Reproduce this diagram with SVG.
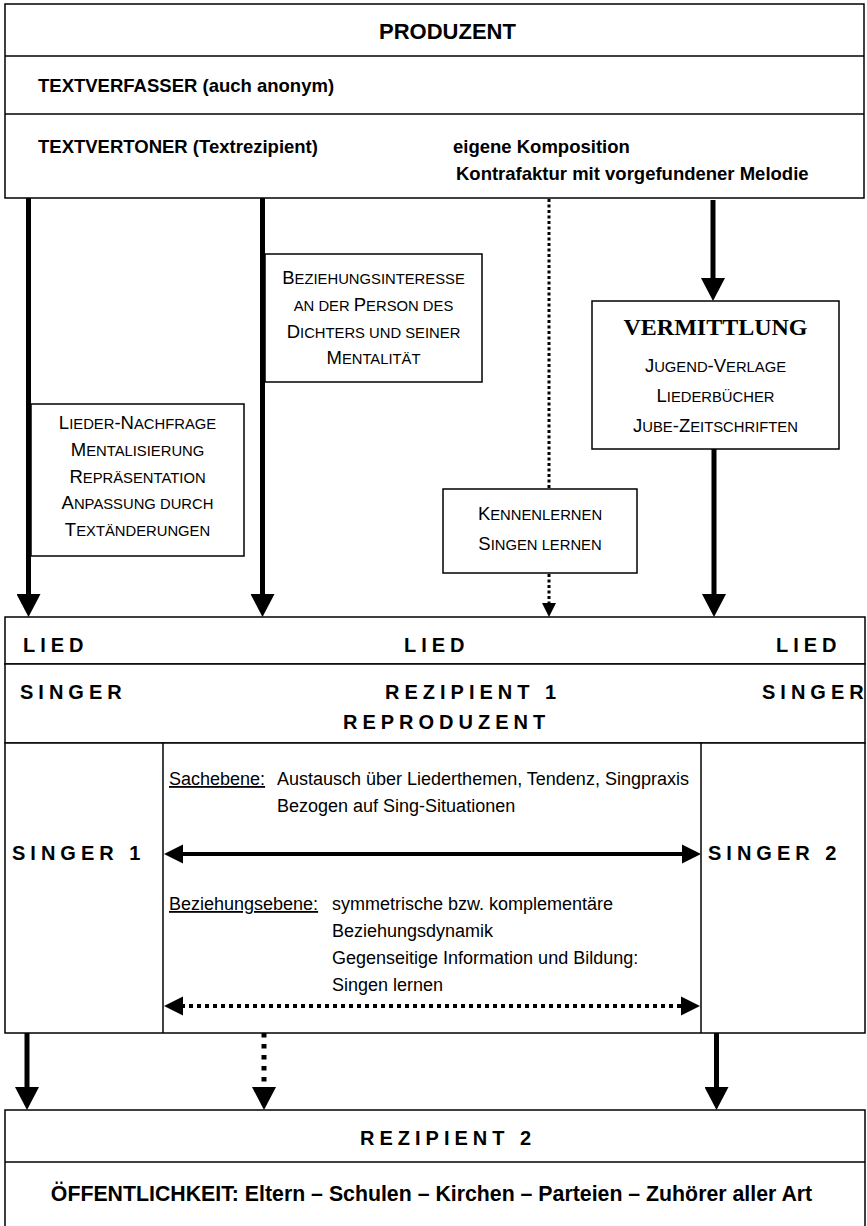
<svg xmlns="http://www.w3.org/2000/svg" width="867" height="1226" viewBox="0 0 867 1226">
<style>
  .box{fill:#fff;stroke:#000;stroke-width:1.5}
  .ln{stroke:#000;stroke-width:1.5;fill:none}
  .b{font-family:"Liberation Sans",Arial,sans-serif;font-weight:bold;fill:#000}
  .r{font-family:"Liberation Sans",Arial,sans-serif;fill:#000;font-size:18px}
  .sp{font-family:"Liberation Sans",Arial,sans-serif;font-weight:bold;font-size:20px;letter-spacing:5px;fill:#000}
  .sc{font-family:"Liberation Sans",Arial,sans-serif;font-size:18.5px;fill:#000;text-anchor:middle}
  .s{font-size:14.8px}
  .u{text-decoration:underline}
  .solid{stroke:#000;stroke-width:5;fill:none}
  .dotv{stroke:#000;stroke-width:3;stroke-dasharray:3 2.5;fill:none}
  .dash{stroke:#000;stroke-width:5;stroke-dasharray:4.5 6.5;fill:none}
  .hs{stroke:#000;stroke-width:4;fill:none}
  .hd{stroke:#000;stroke-width:4;stroke-dasharray:4 4;fill:none}
</style>
<defs>
  <marker id="big" markerUnits="userSpaceOnUse" markerWidth="24" markerHeight="24" refX="2" refY="12" orient="auto" viewBox="0 0 24 24">
    <path d="M0,0 L23,12 L0,24 Z" fill="#000"/>
  </marker>
  <marker id="small" markerUnits="userSpaceOnUse" markerWidth="15" markerHeight="15" refX="2" refY="7" orient="auto" viewBox="0 0 15 14">
    <path d="M0,0 L14,7 L0,14 Z" fill="#000"/>
  </marker>
  <marker id="h" markerUnits="userSpaceOnUse" markerWidth="20" markerHeight="20" refX="2" refY="9.5" orient="auto-start-reverse" viewBox="0 0 20 19">
    <path d="M0,0 L19,9.5 L0,19 Z" fill="#000"/>
  </marker>
</defs>
<rect width="867" height="1226" fill="#fff"/>

<g id="produzent">
  <rect class="box" x="5" y="4" width="859" height="194"/>
  <line class="ln" x1="5" y1="56" x2="864" y2="56"/>
  <line class="ln" x1="5" y1="114" x2="864" y2="114"/>
  <text class="b" x="379" y="39" font-size="22">PRODUZENT</text>
  <text class="b" x="38" y="92" font-size="18.5">TEXTVERFASSER (auch anonym)</text>
  <text class="b" x="38" y="153" font-size="18.5">TEXTVERTONER (Textrezipient)</text>
  <text class="b" x="453" y="153" font-size="18.5">eigene Komposition</text>
  <text class="b" x="456" y="180" font-size="18.5">Kontrafaktur mit vorgefundener Melodie</text>
</g>

<g id="beziehungsinteresse">
  <rect class="box" x="265" y="254" width="217" height="128"/>
  <text class="sc" x="373.5" y="284">B<tspan class="s">EZIEHUNGSINTERESSE</tspan></text>
  <text class="sc" x="373.5" y="311"><tspan class="s">AN DER </tspan>P<tspan class="s">ERSON DES</tspan></text>
  <text class="sc" x="373.5" y="338">D<tspan class="s">ICHTERS UND SEINER</tspan></text>
  <text class="sc" x="373.5" y="364">M<tspan class="s">ENTALITÄT</tspan></text>
</g>

<g id="liedernachfrage">
  <rect class="box" x="31" y="404" width="213" height="152"/>
  <text class="sc" x="137.5" y="429">L<tspan class="s">IEDER</tspan>-N<tspan class="s">ACHFRAGE</tspan></text>
  <text class="sc" x="137.5" y="456">M<tspan class="s">ENTALISIERUNG</tspan></text>
  <text class="sc" x="137.5" y="483">R<tspan class="s">EPRÄSENTATION</tspan></text>
  <text class="sc" x="137.5" y="509">A<tspan class="s">NPASSUNG DURCH</tspan></text>
  <text class="sc" x="137.5" y="536">T<tspan class="s">EXTÄNDERUNGEN</tspan></text>
</g>

<g id="vermittlung">
  <rect class="box" x="592" y="301" width="247" height="148"/>
  <text x="715.5" y="335" text-anchor="middle" font-family="'Liberation Serif','Times New Roman',serif" font-weight="bold" font-size="24">VERMITTLUNG</text>
  <text class="sc" x="715.5" y="372">J<tspan class="s">UGEND</tspan>-V<tspan class="s">ERLAGE</tspan></text>
  <text class="sc" x="715.5" y="402">L<tspan class="s">IEDERBÜCHER</tspan></text>
  <text class="sc" x="715.5" y="432">J<tspan class="s">UBE</tspan>-Z<tspan class="s">EITSCHRIFTEN</tspan></text>
</g>

<g id="kennenlernen">
  <rect class="box" x="443" y="489" width="194" height="84"/>
  <text class="sc" x="540" y="520">K<tspan class="s">ENNENLERNEN</tspan></text>
  <text class="sc" x="540" y="550">S<tspan class="s">INGEN LERNEN</tspan></text>
</g>

<g id="lied">
  <rect class="box" x="5" y="617" width="860" height="47"/>
  <text class="sp" x="23" y="652">LIED</text>
  <text class="sp" x="404" y="652">LIED</text>
  <text class="sp" x="776" y="652">LIED</text>
</g>

<g id="rezipient1">
  <rect class="box" x="5" y="664" width="860" height="79"/>
  <text class="sp" x="20" y="699">SINGER</text>
  <text class="sp" x="385" y="699">REZIPIENT 1</text>
  <text class="sp" x="762" y="699">SINGER</text>
  <text class="sp" x="343" y="729">REPRODUZENT</text>
</g>

<g id="interaktion">
  <rect class="box" x="5" y="743" width="860" height="290"/>
  <line class="ln" x1="163" y1="743" x2="163" y2="1033"/>
  <line class="ln" x1="701" y1="743" x2="701" y2="1033"/>
  <text class="sp" x="12" y="860">SINGER 1</text>
  <text class="sp" x="708" y="860">SINGER 2</text>
  <text class="r" x="169" y="785"><tspan class="u">Sachebene:</tspan></text>
  <text class="r" x="277" y="785">Austausch über Liederthemen, Tendenz, Singpraxis</text>
  <text class="r" x="277" y="812">Bezogen auf Sing-Situationen</text>
  <text class="r" x="169" y="910"><tspan class="u">Beziehungsebene:</tspan></text>
  <text class="r" x="332" y="910">symmetrische bzw. komplementäre</text>
  <text class="r" x="332" y="937">Beziehungsdynamik</text>
  <text class="r" x="332" y="964">Gegenseitige Information und Bildung:</text>
  <text class="r" x="332" y="991">Singen lernen</text>
</g>

<g id="rezipient2">
  <rect class="box" x="5" y="1110" width="860" height="130"/>
  <line class="ln" x1="5" y1="1162" x2="865" y2="1162"/>
  <text class="sp" x="360" y="1145">REZIPIENT 2</text>
  <text class="b" x="431.5" y="1201" font-size="21.3" text-anchor="middle">ÖFFENTLICHKEIT: Eltern – Schulen – Kirchen – Parteien – Zuhörer aller Art</text>
</g>

<g id="connectors">
  <line class="solid" x1="28.5" y1="198" x2="28.5" y2="596" marker-end="url(#big)"/>
  <line class="solid" x1="262.5" y1="198" x2="262.5" y2="596" marker-end="url(#big)"/>
  <line class="dotv" x1="549" y1="199" x2="549" y2="488"/>
  <line class="dotv" x1="549" y1="574" x2="549" y2="605" marker-end="url(#small)"/>
  <line class="solid" x1="713" y1="200" x2="713" y2="280" marker-end="url(#big)"/>
  <line class="solid" x1="714" y1="449" x2="714" y2="596" marker-end="url(#big)"/>
  <line class="hs" x1="181" y1="854" x2="684" y2="854" marker-start="url(#h)" marker-end="url(#h)"/>
  <line class="hd" x1="181" y1="1006" x2="683" y2="1006" marker-start="url(#h)" marker-end="url(#h)"/>
  <line class="solid" x1="27" y1="1033" x2="27" y2="1089" marker-end="url(#big)"/>
  <line class="dash" x1="264" y1="1033" x2="264" y2="1089" marker-end="url(#big)"/>
  <line class="solid" x1="716.5" y1="1033" x2="716.5" y2="1089" marker-end="url(#big)"/>
</g>
</svg>
